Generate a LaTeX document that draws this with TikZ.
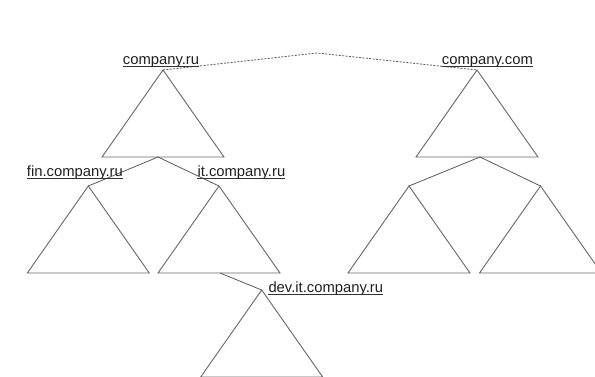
\documentclass[tikz,border=0pt]{standalone}
\usepackage{fontspec}
\setmainfont{Liberation Sans}
\usetikzlibrary{calc}
\begin{document}
\begin{tikzpicture}[x=1pt,y=-1pt,
  treeline/.style={draw=black!60,line width=0.9pt,line join=miter},
  link/.style={draw=black!65,line width=0.8pt},
  peer/.style={draw=black!65,line width=0.8pt,dash pattern=on 2pt off 1.4pt},
  dnslabel/.style={inner sep=0pt,anchor=base west,text=black!88,
    font=\fontsize{14.8}{17}\selectfont},
  subtree/.pic={\path[treeline] (0,0) -- (-61,87) -- (61,87) -- cycle;}]
\useasboundingbox (0,0) rectangle (595,376);

% zones: apex points
\coordinate (ru)   at (163,70);
\coordinate (com)  at (477,70);
\coordinate (fin)  at (88.3,186);
\coordinate (it)   at (219,186);
\coordinate (cl)   at (409,186);
\coordinate (cr)   at (540.5,186);
\coordinate (dev)  at (261.7,290);
\coordinate (top)  at (317,53);

\foreach \z in {ru,com,fin,it,cl,cr,dev}
  \pic at (\z) {subtree};

% points on the parent bases where delegations start
\coordinate (ruB)  at ($(ru)+(-5,87)$);
\coordinate (comB) at ($(com)+(3,87)$);
\coordinate (itB)  at (220,273);

% delegation links
\draw[link] (ruB) -- (fin);
\draw[link] (ruB) -- (it);
\draw[link] (comB) -- (cl);
\draw[link] (comB) -- (cr);
\draw[link] (itB) -- (dev);

% peering between the two roots
\draw[peer] (ru) -- (top) -- (com);

% domain labels
\node[dnslabel] (lru)  at (122.7,64.5) {company.ru};
\node[dnslabel] (lcom) at (441.7,64.5) {company.com};
\node[dnslabel] (lfin) at (26.7,176.7) {fin.company.ru};
\node[dnslabel] (lit)  at (197.3,176.7) {it.company.ru};
\node[dnslabel] (ldev) at (268.3,292.3) {dev.it.company.ru};
\foreach \l in {lru,lcom,lfin,lit,ldev}
  \draw[black!80,line width=0.8pt] ([yshift=-2pt]\l.base west) -- ([yshift=-2pt]\l.base east);
\end{tikzpicture}
\end{document}
